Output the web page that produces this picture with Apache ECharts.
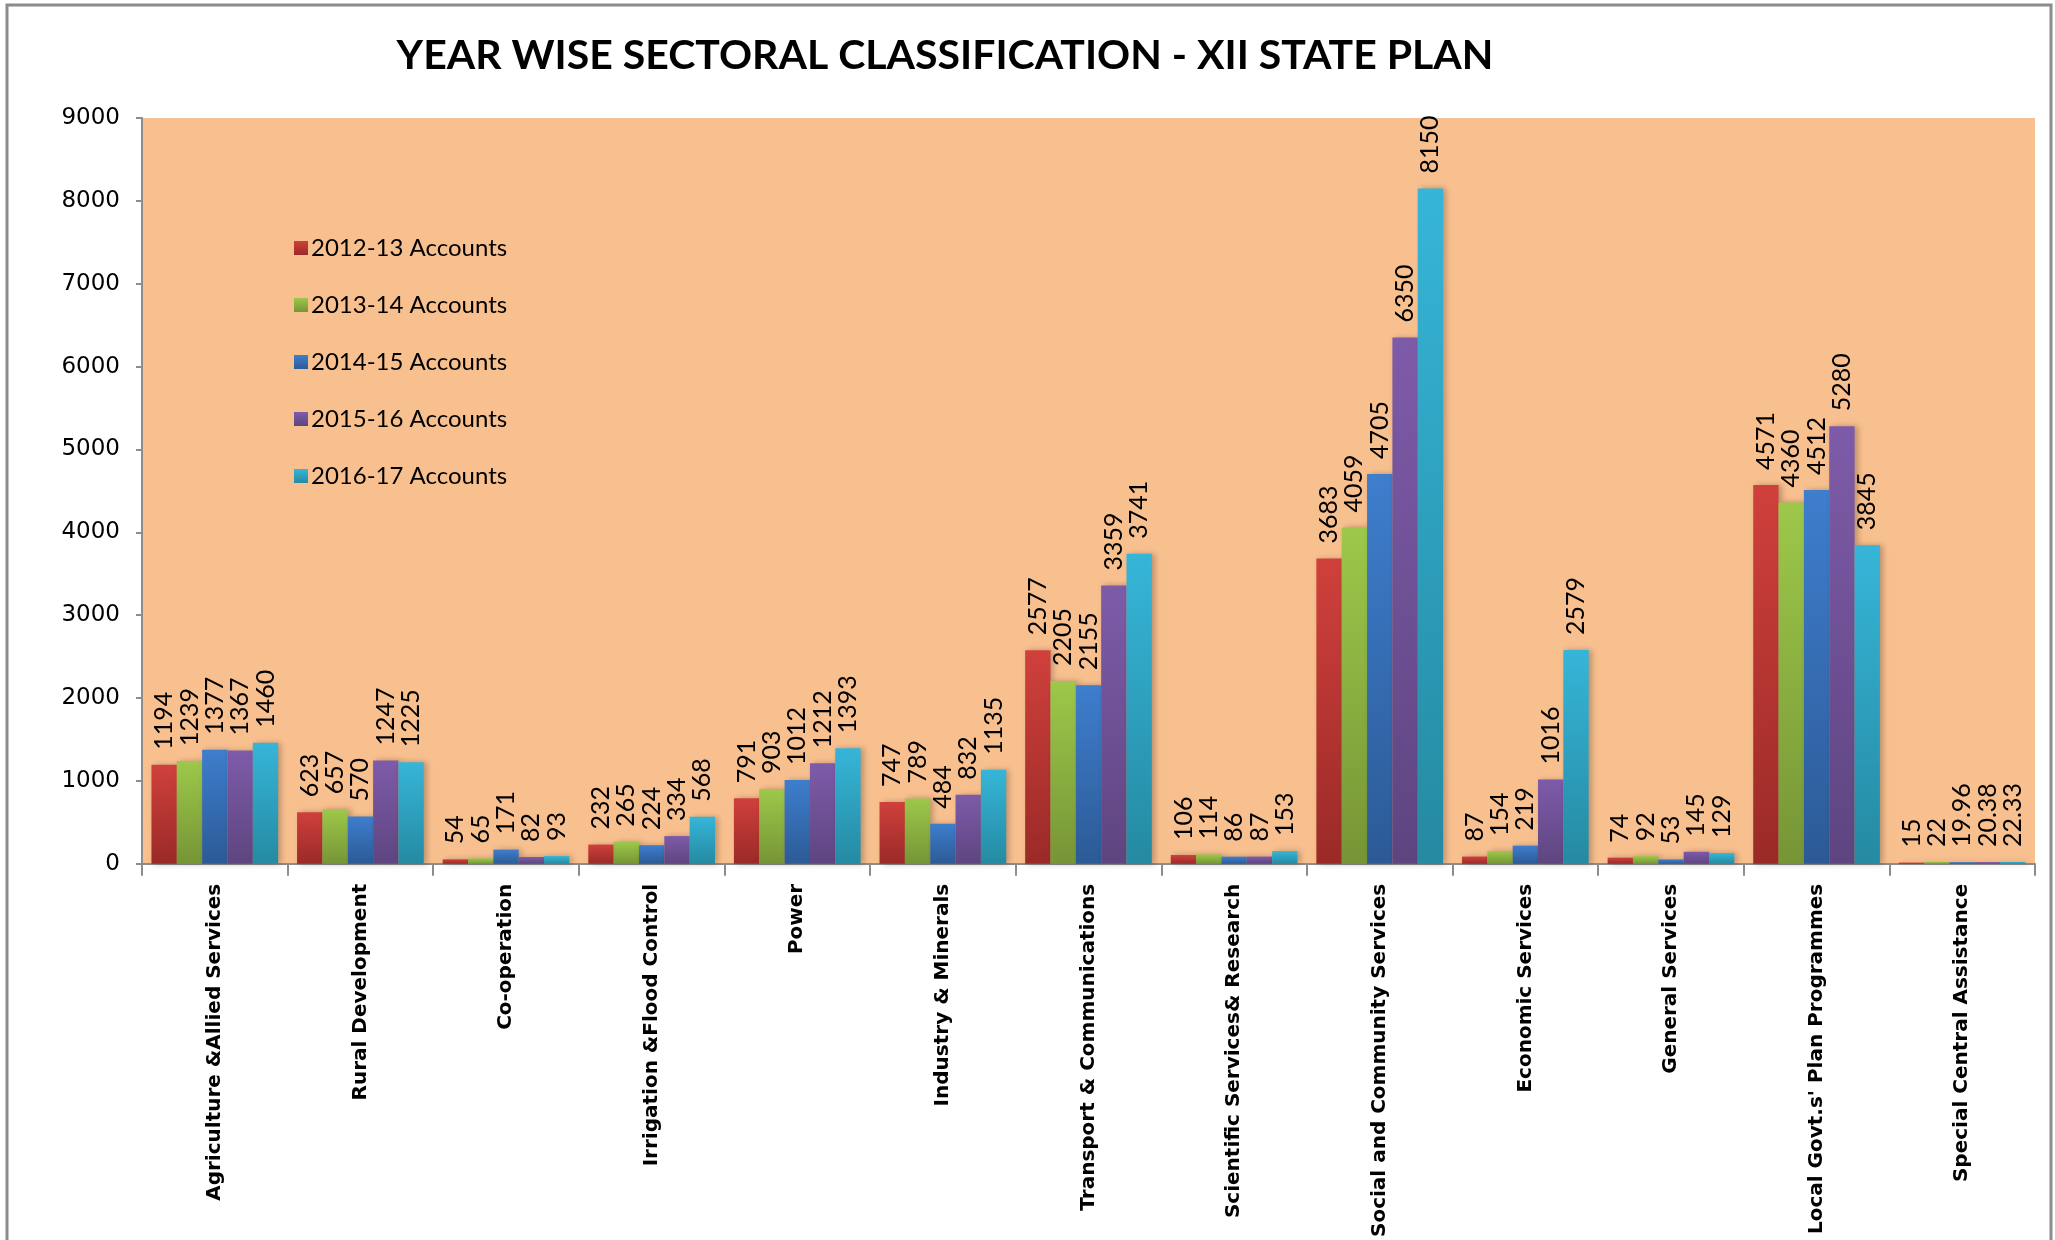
<!DOCTYPE html>
<html>
<head>
<meta charset="utf-8">
<script src="https://cdn.jsdelivr.net/npm/echarts@6/dist/echarts.min.js"></script>
<style>
  html, body { margin: 0; padding: 0; background: #fff; }
  #chart { width: 2055px; height: 1240px; }
</style>
</head>
<body>
<div id="chart"></div>
<script>
// 分类
const sectors = [
  'Agriculture &Allied Services',
  'Rural Development',
  'Co-operation',
  'Irrigation &Flood Control',
  'Power',
  'Industry & Minerals',
  'Transport & Communications',
  'Scientific Services& Research',
  'Social and Community Services',
  'Economic Services',
  'General Services',
  "Local Govt.s' Plan Programmes",
  'Special Central Assistance'
];

const years = ['2012-13 Accounts', '2013-14 Accounts', '2014-15 Accounts', '2015-16 Accounts', '2016-17 Accounts'];

const acc2012 = [1194, 623, 54, 232, 791, 747, 2577, 106, 3683, 87, 74, 4571, 15];
const acc2013 = [1239, 657, 65, 265, 903, 789, 2205, 114, 4059, 154, 92, 4360, 22];
const acc2014 = [1377, 570, 171, 224, 1012, 484, 2155, 86, 4705, 219, 53, 4512, 19.96];
const acc2015 = [1367, 1247, 82, 334, 1212, 832, 3359, 87, 6350, 1016, 145, 5280, 20.38];
const acc2016 = [1460, 1225, 93, 568, 1393, 1135, 3741, 153, 8150, 2579, 129, 3845, 22.33];

const yTicks = [0, 1000, 2000, 3000, 4000, 5000, 6000, 7000, 8000, 9000];

// 柱子颜色：上浅下深
const barColors = [
  ['#d0403c', '#9a2a27'],
  ['#9dc84a', '#769536'],
  ['#3e7ecd', '#2c5a96'],
  ['#7e5ba9', '#5e4580'],
  ['#36b5d8', '#258aa2']
];

const allData = [acc2012, acc2013, acc2014, acc2015, acc2016];

var myChart = echarts.init(document.getElementById('chart'));

var option = {
  backgroundColor: '#ffffff',
  animation: false,
  title: {
    text: 'YEAR WISE SECTORAL CLASSIFICATION - XII STATE PLAN',
    left: 940,
    top: 30,
    textAlign: 'center',
    textStyle: {
      fontFamily: 'Lato',
      fontWeight: 'bold',
      fontSize: 41,
      color: '#000'
    }
  },
  graphic: [
    {
      type: 'rect',
      shape: { x: 7, y: 5, width: 2044, height: 1260 },
      style: { fill: 'none', stroke: '#8c8c8c', lineWidth: 3 },
      silent: true
    }
  ],
  legend: {
    orient: 'vertical',
    left: 289,
    top: 231,
    itemWidth: 14,
    itemHeight: 14,
    itemGap: 33,
    icon: 'rect',
    data: years,
    textStyle: {
      fontFamily: 'Lato',
      fontSize: 24,
      color: '#000',
      padding: [0, 0, 0, -2]
    }
  },
  grid: {
    left: 142,
    right: 20,
    top: 118,
    bottom: 376,
    show: true,
    backgroundColor: '#f9c08f',
    borderWidth: 0
  },
  xAxis: {
    type: 'category',
    data: sectors,
    axisLine: { lineStyle: { color: '#8c8c8c', width: 2 } },
    axisTick: { show: true, length: 12, lineStyle: { color: '#8c8c8c', width: 2 } },
    axisLabel: {
      rotate: 90,
      interval: 0,
      margin: 20,
      fontFamily: 'DejaVu Sans',
      fontWeight: 'bold',
      fontSize: 20,
      color: '#000'
    }
  },
  yAxis: {
    type: 'value',
    min: yTicks[0],
    max: yTicks[yTicks.length - 1],
    interval: 1000,
    splitLine: { show: false },
    axisLine: { show: true, lineStyle: { color: '#8c8c8c', width: 2 } },
    axisTick: { show: true, length: 6, lineStyle: { color: '#8c8c8c', width: 2 } },
    axisLabel: {
      margin: 22,
      fontFamily: 'DejaVu Sans',
      fontSize: 23,
      color: '#000',
      formatter: function (v) { return String(v); }
    }
  },
  series: years.map(function (name, i) {
    return {
      name: name,
      type: 'bar',
      data: allData[i],
      barGap: '0%',
      barCategoryGap: '13%',
      itemStyle: {
        color: new echarts.graphic.LinearGradient(0, 0, 0, 1, [
          { offset: 0, color: barColors[i][0] },
          { offset: 1, color: barColors[i][1] }
        ]),
        shadowColor: 'rgba(0,0,0,0.25)',
        shadowBlur: 6,
        shadowOffsetX: 3,
        shadowOffsetY: 0
      },
      label: {
        show: true,
        position: 'top',
        rotate: 90,
        align: 'left',
        verticalAlign: 'middle',
        distance: 15,
        fontFamily: 'Lato',
        fontSize: 25,
        color: '#000'
      }
    };
  })
};

myChart.setOption(option);
</script>
</body>
</html>
